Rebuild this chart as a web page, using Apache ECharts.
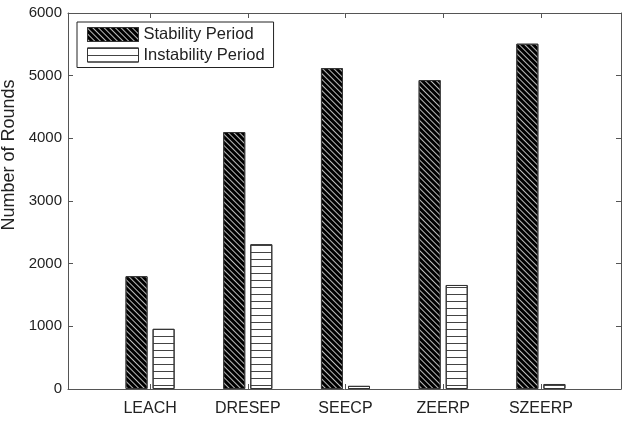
<!DOCTYPE html>
<html>
<head>
<meta charset="utf-8">
<script src="https://cdn.jsdelivr.net/npm/echarts@6/dist/echarts.min.js"></script>
<style>
html,body{margin:0;padding:0;background:#fff;}
#chart{width:627px;height:428px;}
</style>
</head>
<body>
<div id="chart"></div>
<script>
var categories = ['LEACH', 'DRESEP', 'SEECP', 'ZEERP', 'SZEERP'];
var categoryPositions = [1, 2, 3, 4, 5];
var stabilityPeriod = [1800, 4100, 5120, 4930, 5510];
var instabilityPeriod = [960, 2310, 50, 1660, 80];
var yTicks = [0, 1000, 2000, 3000, 4000, 5000, 6000];

var FONT = 'Liberation Sans';
var chart = echarts.init(document.getElementById('chart'), null, {renderer: 'canvas'});

function pairs(vals) {
  return vals.map(function (v, i) { return [categoryPositions[i], v]; });
}

var axisLineStyle = {color: '#555', width: 1};

chart.setOption({
  animation: false,
  backgroundColor: '#fff',
  textStyle: {fontFamily: FONT},
  grid: {left: 68, right: 6, top: 13, bottom: 39, containLabel: false, outerBoundsMode: 'none'},
  legend: {
    orient: 'vertical',
    left: 77,
    top: 22,
    padding: [4, 9, 4, 10],
    borderColor: '#222',
    borderWidth: 1,
    itemWidth: 51,
    itemHeight: 14,
    itemGap: 3.5,
    icon: 'rect',
    itemStyle: {borderWidth: 1},
    textStyle: {fontFamily: FONT, fontSize: 16.5, color: '#222'},
    data: ['Stability Period', 'Instability Period']
  },
  xAxis: [{
    type: 'value',
    position: 'bottom',
    min: 0.16,
    max: 5.82,
    splitLine: {show: false},
    axisLine: {show: true, lineStyle: axisLineStyle},
    axisTick: {show: true, inside: true, length: 5, customValues: categoryPositions, lineStyle: axisLineStyle},
    axisLabel: {
      show: true,
      customValues: categoryPositions,
      formatter: function (v) { return categories[Math.round(v) - 1] || ''; },
      fontFamily: FONT, fontSize: 16, color: '#222', margin: 12
    }
  }, {
    type: 'value',
    position: 'top',
    min: 0.16,
    max: 5.82,
    splitLine: {show: false},
    axisLine: {show: true, onZero: false, lineStyle: axisLineStyle},
    axisTick: {show: true, inside: true, length: 5, customValues: categoryPositions, lineStyle: axisLineStyle},
    axisLabel: {show: false}
  }],
  yAxis: [{
    type: 'value',
    position: 'left',
    min: 0,
    max: 6000,
    interval: 1000,
    name: 'Number of Rounds',
    nameLocation: 'middle',
    nameGap: 50,
    nameTextStyle: {fontFamily: FONT, fontSize: 18, color: '#222', padding: [0, 0, 0, 92]},
    splitLine: {show: false},
    axisLine: {show: true, onZero: false, lineStyle: axisLineStyle},
    axisTick: {show: true, inside: true, length: 5, lineStyle: axisLineStyle},
    axisLabel: {
      customValues: yTicks,
      formatter: function (v) { return String(v); },
      fontFamily: FONT, fontSize: 15, color: '#222', margin: 6
    }
  }, {
    type: 'value',
    position: 'right',
    min: 0,
    max: 6000,
    interval: 1000,
    splitLine: {show: false},
    axisLine: {show: true, onZero: false, lineStyle: axisLineStyle},
    axisTick: {show: true, inside: true, length: 5, lineStyle: axisLineStyle},
    axisLabel: {show: false}
  }],
  series: [{
    name: 'Stability Period',
    type: 'bar',
    xAxisIndex: 0,
    yAxisIndex: 0,
    barWidth: 22,
    barGap: '23%',
    itemStyle: {
      color: '#000',
      borderColor: '#333',
      borderWidth: 1,
      decal: {
        symbol: 'rect',
        symbolSize: 1,
        dashArrayX: [1, 0],
        dashArrayY: [1, 3],
        rotation: Math.PI / 4,
        color: '#bbb'
      }
    },
    data: pairs(stabilityPeriod)
  }, {
    name: 'Instability Period',
    type: 'bar',
    xAxisIndex: 0,
    yAxisIndex: 0,
    barWidth: 22,
    barGap: '23%',
    itemStyle: {
      color: '#fff',
      borderColor: '#333',
      borderWidth: 1,
      decal: {
        symbol: 'rect',
        symbolSize: 1,
        dashArrayX: [1, 0],
        dashArrayY: [1, 5.5],
        rotation: 0,
        color: '#444'
      }
    },
    data: pairs(instabilityPeriod)
  }]
});
</script>
</body>
</html>
